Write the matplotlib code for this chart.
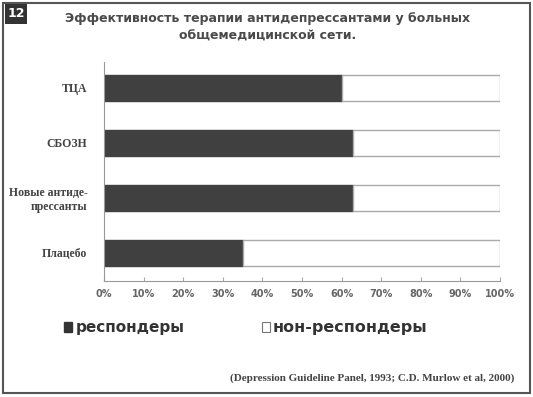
import matplotlib.pyplot as plt
from matplotlib.patches import Rectangle

categories = ["ТЦА", "СБОЗН", "Новые антиде-\nпрессанты", "Плацебо"]
responders = [60, 63, 63, 35]
non_responders = [40, 37, 37, 65]
xticks = [0, 10, 20, 30, 40, 50, 60, 70, 80, 90, 100]

fig = plt.figure(figsize=(5.33, 3.97), dpi=100)
fig.patch.set_facecolor("white")

# outer frame
fig.add_artist(Rectangle((0.006, 0.01), 0.988, 0.982, transform=fig.transFigure,
                         fill=False, edgecolor="#555555", linewidth=1.5))
# number badge
fig.add_artist(Rectangle((0.009, 0.94), 0.042, 0.05, transform=fig.transFigure,
                         facecolor="#333333", edgecolor="none"))
fig.text(0.030, 0.965, "12", color="white", fontsize=9, fontweight="bold",
         ha="center", va="center")

fig.text(0.502, 0.953, "Эффективность терапии антидепрессантами у больных",
         ha="center", va="center", fontsize=9, fontweight="bold", color="#4a4a4a")
fig.text(0.502, 0.910, "общемедицинской сети.",
         ha="center", va="center", fontsize=9, fontweight="bold", color="#4a4a4a")

ax = fig.add_axes([0.195, 0.292, 0.743, 0.552])
ypos = list(range(len(categories)))
ax.barh(ypos, responders, height=0.47, color="#404040", edgecolor="#404040")
ax.barh(ypos, non_responders, left=responders, height=0.47, color="white",
        edgecolor="#aaaaaa", linewidth=1.0)

ax.set_xlim(0, 100)
ax.set_ylim(3.51, -0.47)
ax.set_xticks(xticks)
ax.set_xticklabels([f"{t}%" for t in xticks], fontsize=7, fontweight="bold",
                   color="#666666")
ax.set_yticks(ypos)
ax.set_yticklabels(categories, fontsize=8.5, fontweight="bold", color="#444444",
                   family="Liberation Serif", multialignment="right")
ax.tick_params(axis="y", length=0, pad=12)
ax.tick_params(axis="x", direction="in", length=3, color="#aaaaaa", pad=6)
for s in ["top", "right"]:
    ax.spines[s].set_visible(False)
for s in ["left", "bottom"]:
    ax.spines[s].set_color("#999999")
    ax.spines[s].set_linewidth(0.8)

# legend
fig.add_artist(Rectangle((0.120, 0.163), 0.015, 0.025, transform=fig.transFigure,
                         facecolor="#333333", edgecolor="#333333"))
fig.text(0.142, 0.176, "респондеры", fontsize=11, fontweight="bold",
         color="#333333", va="center")
fig.add_artist(Rectangle((0.492, 0.163), 0.015, 0.025, transform=fig.transFigure,
                         facecolor="white", edgecolor="#777777", linewidth=0.8))
fig.text(0.512, 0.176, "нон-респондеры", fontsize=11.5, fontweight="bold",
         color="#333333", va="center")

fig.text(0.965, 0.048, "(Depression Guideline Panel, 1993; C.D. Murlow et al, 2000)",
         ha="right", va="center", fontsize=8, fontweight="bold",
         family="Liberation Serif", color="#444444")

fig.savefig("out.png", dpi=100)
